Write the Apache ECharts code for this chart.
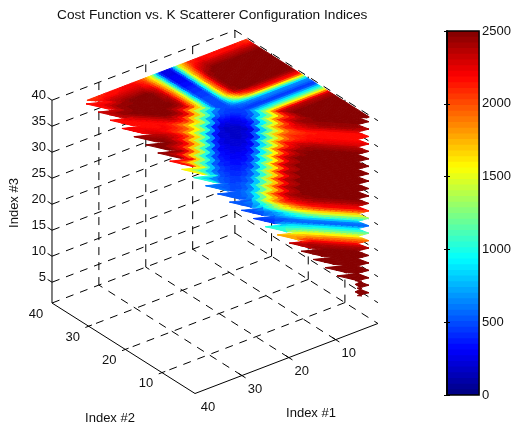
<!DOCTYPE html>
<html>
<head>
<meta charset="utf-8">
<style>html,body{margin:0;padding:0;background:#fff}#c{width:514px;height:427px}</style>
<script src="https://cdn.jsdelivr.net/npm/echarts@6/dist/echarts.min.js"></script>
</head>
<body>
<div id="c"></div>
<script>
// ---------- tick labels / text ----------
const chartTitle = 'Cost Function vs. K Scatterer Configuration Indices';
const index1Ticks = [10, 20, 30, 40];
const index2Ticks = [10, 20, 30, 40];
const index3Ticks = [5, 10, 15, 20, 25, 30, 35, 40];
const axisRange = [1, 40];

// ---------- flat top layer (Index #3 = const); one row per Index #2, columns Index #1 = 1,3,5,... ----------
const topIndex2 = [37, 35, 33, 31, 29, 27, 25, 23, 21, 19, 17, 15, 13, 11, 9, 7, 5];
const topCost = [
  [2100,2150,2150,2150,2150,2200,2100,1600,250,250,1500,2050,2200,2200,2150,2150,2100,2100],
  [2400,2400,2400,2400,2400,2400,2250,1650,280,280,1550,2150,2350,2350,2350,2350,2200],
  [2500,2500,2500,2500,2500,2500,2400,1700,300,300,1600,2300,2500,2500,2480,2400],
  [2500,2500,2500,2500,2500,2500,2450,1750,350,350,1650,2350,2500,2500,2450],
  [2500,2500,2500,2500,2500,2500,2450,1750,420,420,1650,2400,2500,2500],
  [2500,2500,2500,2500,2500,2500,2450,1750,450,450,1650,2400,2500],
  [2500,2500,2500,2500,2500,2500,2400,1700,500,500,1650,2350],
  [2100,2100,2100,2100,2100,2000,1800,1250,500,500,1400],
  [700,700,700,700,700,700,650,600,500,450],
  [400,400,400,400,400,400,400,420,420],
  [1150,1150,1150,1150,1150,1150,1100,1000],
  [2350,2350,2350,2350,2350,2300,2200],
  [2500,2500,2500,2500,2500,2500],
  [2500,2500,2500,2500,2500],
  [2500,2500,2500,2500],
  [2500,2500,2500],
  [2500,2500]
];

// ---------- stepped diagonal layer (Index #2 = Index #1 + 3); one row per Index #3 level, columns Index #1 = 1,3,5,... ----------
const sideIndex3 = [38.5,37.07,35.64,34.21,32.78,31.35,29.92,28.49,27.06,25.63,24.2,22.77,21.34,19.91,18.48,17.05,15.62,14.19,12.76,11.33,9.9,8.47,7.04,5.61];
const sideCost = [
  [2500,2500,2500,2500,2450,2200,1300,500,420,520,1350,2250,2500,2500,2500,2400,2150,2100],
  [2400,2420,2420,2420,2400,2150,1300,350,260,380,1350,2250,2500,2500,2500,2400,2150],
  [2150,2150,2150,2150,2100,1950,1250,220,150,250,1350,1950,2200,2150,2150,2150,2150],
  [2200,2200,2200,2200,2150,2000,1200,220,170,240,1300,2000,2200,2200,2200,2200],
  [2450,2450,2450,2450,2400,2150,1250,250,200,270,1350,2200,2450,2450,2450],
  [2500,2500,2500,2500,2480,2250,1300,300,240,320,1350,2250,2480,2480],
  [2500,2500,2500,2500,2500,2300,1300,360,280,380,1300,2250,2500,2500],
  [2500,2500,2500,2500,2500,2300,1350,420,330,440,1300,2200,2500],
  [2500,2500,2500,2500,2500,2300,1400,480,380,500,1300,2200],
  [2500,2500,2500,2500,2500,2300,1450,540,430,550,1300],
  [2500,2500,2500,2500,2500,2300,1500,590,470,600,1350],
  [2450,2450,2450,2450,2400,2300,1600,600,500,600],
  [2150,2150,2150,2150,2050,1800,1300,550,480],
  [1350,1350,1350,1350,1250,950,600,450],
  [500,500,500,500,500,480,450,450],
  [1150,1150,1150,1150,1100,1050,950],
  [1850,1850,1850,1850,1800,1750],
  [2400,2400,2400,2400,2350,2300],
  [2500,2500,2500,2500,2500],
  [2500,2500,2500,2500],
  [2500,2500,2500],
  [2500,2500,2500],
  [2500,2500],
  [2500,2500]
];

// ---------- view of the 3-D box on the page ----------
const cMax = 2500;
function project(i, j, k) {
  return [195 + (40 - i) * 4.69 - (j - 1) * 3.667,
          393.5 - (40 - i) * 1.795 - (j - 1) * 2.32 - (k - 1) * 5.2];
}
function clamp01(a) { return Math.max(0, Math.min(1, a)); }
function jet(v) {
  const n = Math.min(63, Math.floor(clamp01(v / cMax) * 64));
  const t = (n + 0.5) / 64;
  const f = c => Math.round(255 * clamp01(1.5 - Math.abs(4 * t - c)));
  return 'rgb(' + f(3) + ',' + f(2) + ',' + f(1) + ')';
}
function lookup(row, i) {
  const p = Math.max(0, (i - 1) / 2), a = Math.min(row.length - 1, Math.floor(p)), b = Math.min(row.length - 1, a + 1);
  return row[a] + (row[b] - row[a]) * (p - a);
}

// ---------- cells built from the tables ----------
const topK = 39.2;
function topValue(i, j) {
  const p = Math.max(0, Math.min(topIndex2.length - 1, (37 - j) / 2));
  const a = Math.floor(p), b = Math.min(topIndex2.length - 1, a + 1);
  const va = lookup(topCost[a], i), vb = lookup(topCost[b], i);
  return va + (vb - va) * (p - a);
}
const topCells = [];
for (let j = 4; j < 37.5; j += 0.5) {
  for (let i = 0.5; i < 35; i += 0.5) {
    if (i >= j + 0.5 - 3) continue;
    const lim = (a, b) => [Math.min(a, b - 3), b];
    const q = [lim(i, j), lim(i + 0.5, j), lim(i + 0.5, j + 0.5), lim(i, j + 0.5)];
    const v = (topValue(q[0][0], q[0][1]) + topValue(q[1][0], q[1][1]) + topValue(q[2][0], q[2][1]) + topValue(q[3][0], q[3][1])) / 4;
    topCells.push({ pts: q.map(p => project(p[0], p[1], topK)), v: v });
  }
}
const sideCells = [];
const dK = 1.43;
const iStart = 1.45;
sideIndex3.forEach((K, r) => {
  const iMax = Math.max(K - 5.2, 2);
  const xs = [];
  for (let i = iStart; i < iMax - 0.2; i += 2 / 3) xs.push(i);
  xs.push(iMax);
  const shift = i => {
    let f = Math.max(-1, Math.min(1, (i - 17) / 4)) * 0.45;
    const e = Math.max(0, 1 - (iMax - i) / 1.5);
    f = f * (1 - e) + 1.3 * e;
    const e2 = Math.max(0, 1 - (i - iStart) / 1.0);
    return f * (1 - e2) - 0.7 * e2;
  };
  const val = (i, w) => {
    const own = lookup(sideCost[r], i);
    const n = w < 0 ? r - 1 : r + 1;
    if (w === 0 || n < 0 || n >= sideCost.length || i > Math.max(sideIndex3[n] - 5.2, 2)) return own;
    return own + (lookup(sideCost[n], i) - own) * Math.abs(w);
  };
  const vs = [-0.5, -0.25, 0, 0.25, 0.5];
  const pt = (i, w) => {
    const ii = i + shift(i) * (1 - 4 * Math.abs(w));
    return project(ii, ii + 3, K - w * dK);
  };
  for (let a = 0; a < xs.length - 1; a++) {
    for (let b = 0; b < 4; b++) {
      const i0 = xs[a], i1 = xs[a + 1], w0 = vs[b], w1 = vs[b + 1];
      const v = (val(i0, w0) + val(i1, w0) + val(i0, w1) + val(i1, w1)) / 4;
      sideCells.push({ pts: [pt(i0, w0), pt(i1, w0), pt(i1, w1), pt(i0, w1)], v: v });
    }
  }
});
const cells = topCells.concat(sideCells);

// ---------- box lines ----------
const dashLines = [], solidLines = [];
const [lo, hi] = axisRange;
index3Ticks.forEach(k => {
  dashLines.push([[hi, hi, k], [lo, hi, k]]);
  dashLines.push([[lo, hi, k], [lo, lo, k]]);
});
dashLines.push([[lo, hi, lo], [lo, hi, hi]]);
dashLines.push([[hi, hi, lo], [lo, hi, lo]]);
dashLines.push([[lo, hi, lo], [lo, lo, lo]]);
index1Ticks.slice(0, 3).forEach(i => {
  dashLines.push([[i, hi, lo], [i, hi, hi]]);
  dashLines.push([[i, lo, lo], [i, hi, lo]]);
});
index2Ticks.slice(0, 3).forEach(j => {
  dashLines.push([[lo, j, lo], [lo, j, hi]]);
  dashLines.push([[lo, j, lo], [hi, j, lo]]);
});
solidLines.push([[hi, hi, lo], [hi, hi, hi]]);
solidLines.push([[hi, hi, lo], [hi, lo, lo]]);
solidLines.push([[hi, lo, lo], [lo, lo, lo]]);
index3Ticks.forEach(k => solidLines.push([[hi, hi + 1.2, k], [hi, hi, k]]));
index2Ticks.slice(0, 3).forEach(j => solidLines.push([[hi + 0.7, j, lo], [hi - 0.7, j, lo]]));
index1Ticks.slice(0, 3).forEach(i => solidLines.push([[i, lo - 1, lo], [i, lo + 1, lo]]));

// ---------- text placed from the ticks ----------
const labels = [];
index3Ticks.forEach(k => { const p = project(hi, hi, k); labels.push({ t: String(k), x: p[0] - 6, y: p[1] - 4.5, a: 'right' }); });
index2Ticks.forEach(j => { const p = project(hi, j, lo); labels.push({ t: String(j), x: p[0] - 16, y: p[1] + 11, a: 'center' }); });
index1Ticks.forEach(i => { const p = project(i, lo, lo); labels.push({ t: String(i), x: p[0] + 13, y: p[1] + 13.5, a: 'center' }); });
labels.push({ t: 'Index #2', x: 110, y: 418, a: 'center' });
labels.push({ t: 'Index #1', x: 311, y: 413, a: 'center' });
labels.push({ t: 'Index #3', x: 14, y: 203, a: 'center', rot: Math.PI / 2 });

const colorBins = [];
for (let n = 0; n < 64; n++) colorBins.push(n);

const FAMILY = '"Liberation Sans", Arial, sans-serif';
const FONT = '13px ' + FAMILY;
const chart = echarts.init(document.getElementById('c'), null, { renderer: 'canvas' });

function lineRender(list, dash) {
  return function (params, api) {
    const l = list[params.dataIndex];
    const p0 = project.apply(null, l[0]), p1 = project.apply(null, l[1]);
    const a = api.coord(p0), b = api.coord(p1);
    return { type: 'line', silent: true, shape: { x1: a[0], y1: a[1], x2: b[0], y2: b[1] },
      style: { stroke: '#000', lineWidth: 1, lineDash: dash, fill: null } };
  };
}
const idx = a => a.map((_, i) => [i, 0]);

chart.setOption({
  animation: false,
  title: { text: chartTitle, left: 57, top: 8, padding: 0,
    textStyle: { fontSize: 13.7, fontWeight: 'normal', color: '#111', fontFamily: FAMILY } },
  grid: [
    { left: 0, top: 0, width: 514, height: 427, show: false },
    { left: 447, top: 31, width: 35, height: 364, show: true, borderColor: '#000', borderWidth: 1.5, backgroundColor: 'transparent', z: 5 }
  ],
  xAxis: [
    { gridIndex: 0, type: 'value', min: 0, max: 514, show: false },
    { gridIndex: 1, type: 'value', min: 0, max: 1, show: false }
  ],
  yAxis: [
    { gridIndex: 0, type: 'value', min: 0, max: 427, inverse: true, show: false },
    { gridIndex: 1, type: 'value', min: 0, max: cMax, interval: 500, position: 'right',
      axisLine: { show: true, lineStyle: { color: '#000', width: 1.5 } },
      axisTick: { show: true, inside: true, length: 3, lineStyle: { color: '#000' } },
      splitLine: { show: false }, z: 6,
      axisLabel: { show: true, margin: 3, color: '#111', fontSize: 13, fontFamily: FAMILY, formatter: v => String(v) } },
    { gridIndex: 1, type: 'value', min: 0, max: cMax, interval: 500, position: 'left',
      axisLine: { show: true, lineStyle: { color: '#000', width: 1.5 } },
      axisTick: { show: true, inside: true, length: 3, lineStyle: { color: '#000' } },
      splitLine: { show: false }, axisLabel: { show: false }, z: 6 }
  ],
  series: [
    { type: 'custom', xAxisIndex: 0, yAxisIndex: 0, silent: true, clip: false, data: idx(dashLines), renderItem: lineRender(dashLines, [8, 7]) },
    { type: 'custom', xAxisIndex: 0, yAxisIndex: 0, silent: true, clip: false, data: idx(solidLines), renderItem: lineRender(solidLines, null) },
    { type: 'custom', xAxisIndex: 0, yAxisIndex: 0, silent: true, clip: false, progressive: 0, data: idx(cells),
      renderItem: function (params, api) {
        const c = cells[params.dataIndex];
        const col = jet(c.v);
        return { type: 'polygon', silent: true, shape: { points: c.pts.map(p => api.coord(p)) },
          style: { fill: col, stroke: col, lineWidth: 1 } };
      } },
    { type: 'custom', xAxisIndex: 0, yAxisIndex: 0, silent: true, clip: false, data: idx(labels),
      renderItem: function (params, api) {
        const l = labels[params.dataIndex];
        const p = api.coord([l.x, l.y]);
        return { type: 'text', silent: true, x: p[0], y: p[1], rotation: l.rot || 0,
          style: { text: l.t, fill: '#111', font: FONT, align: l.a, verticalAlign: 'middle' } };
      } },
    { type: 'custom', xAxisIndex: 1, yAxisIndex: 1, silent: true, data: colorBins.map(n => [0, n]),
      renderItem: function (params, api) {
        const n = colorBins[params.dataIndex];
        const a = api.coord([0, n * cMax / 64]), b = api.coord([1, (n + 1) * cMax / 64]);
        const col = jet((n + 0.5) * cMax / 64);
        const extra = n < 63 ? 1 : 0;
        return { type: 'rect', silent: true, shape: { x: a[0], y: b[1] - extra, width: b[0] - a[0], height: a[1] - b[1] + extra },
          style: { fill: col } };
      } }
  ]
});
</script>
</body>
</html>
